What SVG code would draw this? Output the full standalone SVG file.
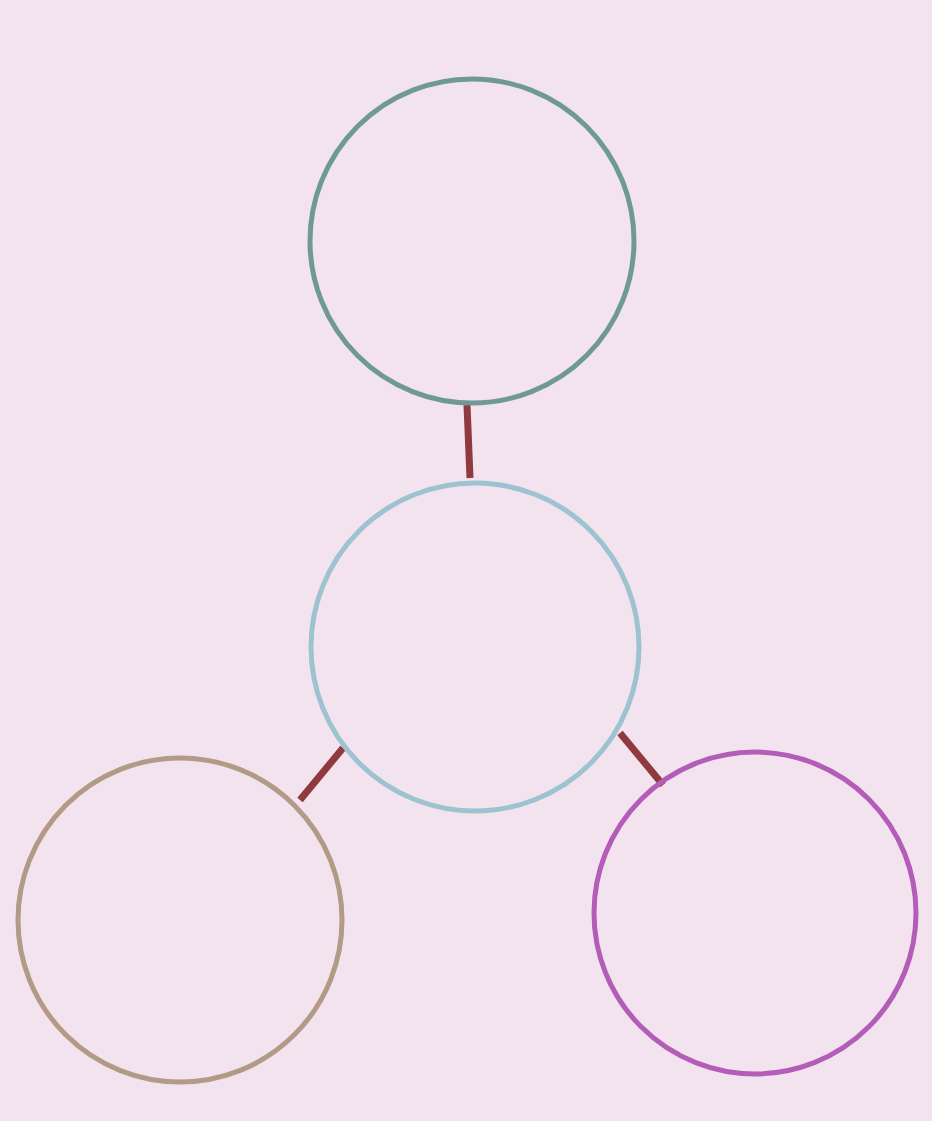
<svg xmlns="http://www.w3.org/2000/svg" width="932" height="1121" viewBox="0 0 932 1121">
<style>
.node{fill:none;stroke-width:5}
.conn{stroke:#8e3a3e;stroke-width:7;stroke-linecap:butt}
</style>
<rect width="932" height="1121" fill="#f3e3ee"/>
<g id="connectors">
<line class="conn" x1="467" y1="405" x2="470" y2="478"/>
<line class="conn" x1="343" y1="748" x2="300" y2="800"/>
<line class="conn" x1="620" y1="733" x2="663" y2="785"/>
</g>
<g id="node-top"><circle class="node" cx="472" cy="241" r="162" stroke="#6f9a94"/></g>
<g id="node-center"><circle class="node" cx="475" cy="647" r="164" stroke="#9cc3cf"/></g>
<g id="node-left"><circle class="node" cx="180" cy="920" r="162" stroke="#b39a86"/></g>
<g id="node-right"><circle class="node" cx="755" cy="913" r="161" stroke="#b35cb8"/></g>
</svg>
